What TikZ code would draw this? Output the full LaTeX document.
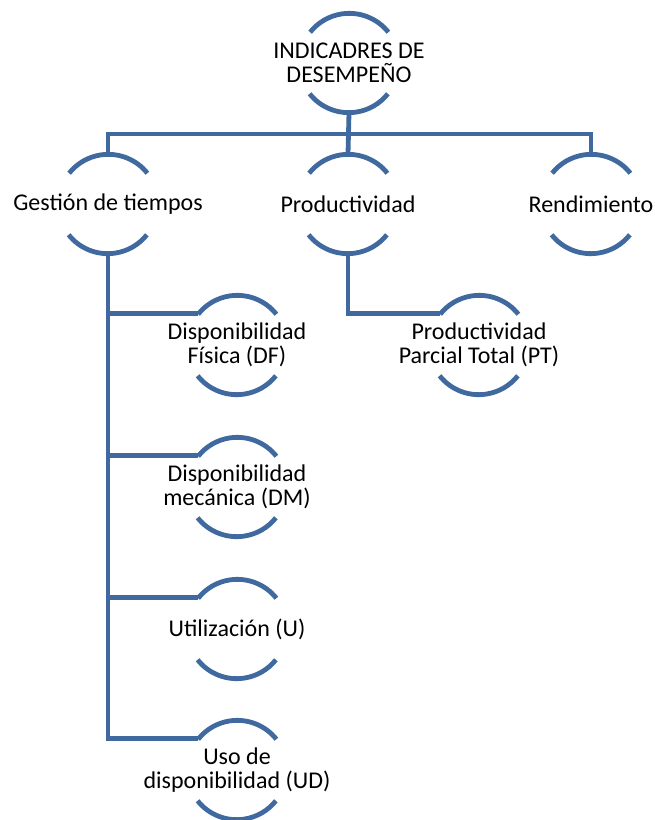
\documentclass[tikz,border=0pt]{standalone}
\usepackage{fontspec}
\setmainfont{Carlito}
\definecolor{ring}{RGB}{64,106,159}
\begin{document}
\begin{tikzpicture}[x=1pt,y=1pt,
  hnode/.style={circle, minimum size=100pt, inner sep=0pt, outer sep=0pt},
  lbl/.style={align=center, inner sep=0pt, text=black,
    font=\fontsize{24}{24}\selectfont},
  link/.style={draw=ring, line width=4.8pt},
  ringarc/.style={draw=ring, line width=4.8pt}]
\useasboundingbox (0,0) rectangle (655,-820);

% root
\node[hnode, label={[lbl]center:INDICADRES DE\\DESEMPEÑO}] (top) at (349,-63) {};

% second level
\node[hnode, label={[lbl]center:Gestión de tiempos}] (gt) at (108,-204) {};
\node[hnode, label={[lbl]center:Productividad}] (pr) at (348,-204) {};
\node[hnode, label={[lbl]center:Rendimiento}] (re) at (591,-204) {};

% third level
\node[hnode, label={[lbl]center:Disponibilidad\\Física (DF)}] (df) at (237,-345) {};
\node[hnode, label={[lbl]center:Disponibilidad\\mecánica (DM)}] (dm) at (237,-487) {};
\node[hnode, label={[lbl]center:Utilización (U)}] (u) at (237,-629) {};
\node[hnode, label={[lbl]center:Uso de\\disponibilidad (UD)}] (ud) at (237,-770) {};
\node[hnode, label={[lbl]center:Productividad\\Parcial Total (PT)}] (pt) at (479,-345) {};

% open rings: top and bottom arcs only
\foreach \n in {top,gt,pr,re,df,dm,u,ud,pt}{
  \draw[ringarc] (\n.38.5) arc[start angle=38.5, end angle=141.5, radius=50];
  \draw[ringarc] (\n.218.5) arc[start angle=218.5, end angle=321.5, radius=50];
}

% connectors
\draw[link] (top.south) -- ++(0,-21) -| (gt.north);
\draw[link] (top.south) -- ++(0,-21) -| (re.north);
\draw[link] (top.south) -- (pr.north);
\draw[link] (gt.south) |- (df.141.5);
\draw[link] (gt.south) |- (dm.141.5);
\draw[link] (gt.south) |- (u.141.5);
\draw[link] (gt.south) |- (ud.141.5);
\draw[link] (pr.south) |- (pt.141.5);
\end{tikzpicture}
\end{document}
